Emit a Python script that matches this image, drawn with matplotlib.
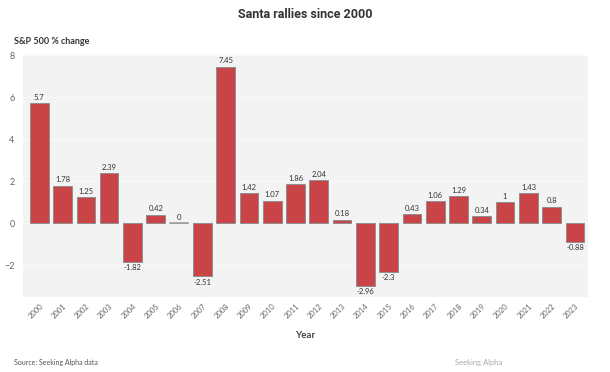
import matplotlib.pyplot as plt

# Santa rally S&P 500 % change by year
years = [str(y) for y in range(2000, 2024)]
changes = [5.7, 1.78, 1.25, 2.39, -1.82, 0.42, 0, -2.51, 7.45, 1.42, 1.07, 1.86,
           2.04, 0.18, -2.96, -2.3, 0.43, 1.06, 1.29, 0.34, 1, 1.43, 0.8, -0.88]
labels = ["5.7", "1.78", "1.25", "2.39", "-1.82", "0.42", "0", "-2.51", "7.45", "1.42",
          "1.07", "1.86", "2.04", "0.18", "-2.96", "-2.3", "0.43", "1.06", "1.29", "0.34",
          "1", "1.43", "0.8", "-0.88"]

plt.rcParams['font.family'] = ['Lato', 'DejaVu Sans']

fig = plt.figure(figsize=(6.1, 3.72), dpi=100)
ax = fig.add_axes([23 / 610, 75 / 372, 565 / 610, 242 / 372])
ax.set_facecolor('#f3f3f3')

x = list(range(len(years)))
ax.bar(x, changes, width=0.8, color='#c94446', edgecolor='#8f8f8f', linewidth=0.7, zorder=3)
ax.plot([-0.4, -0.4 + 0.8], [0, 0], alpha=0)
# zero-height bar for 2006 shows as a thin gray line
ax.plot([6 - 0.4, 6 + 0.4], [0, 0], color='#a0a0a0', linewidth=1.2, zorder=4)

for xi, v, lab in zip(x, changes, labels):
    if v >= 0:
        ax.text(xi, v + 0.12, lab, ha='center', va='bottom', fontsize=5.5, color='#333333')
    else:
        ax.text(xi, v - 0.12, lab, ha='center', va='top', fontsize=5.5, color='#333333')

ax.set_xlim(-0.7, 23.56)
ax.set_ylim(-3.5, 8)
ax.set_yticks([-2, 0, 2, 4, 6, 8])
ax.grid(axis='y', color='#fafafa', linewidth=0.8, zorder=0)
for s in ax.spines.values():
    s.set_visible(False)
ax.tick_params(axis='y', length=0, labelsize=6.5, labelcolor='#666666', pad=6)
ax.tick_params(axis='x', length=0, labelsize=5.5, labelcolor='#666666', pad=4)
ax.set_xticks(x)
ax.set_xticklabels(years, rotation=45, ha='right', rotation_mode='anchor')

fig.text(0.5, 1 - 14 / 372, "Santa rallies since 2000", ha='center', va='center',
         fontsize=9, fontweight='bold', family=['Roboto', 'DejaVu Sans'], color='#333333')
fig.text(14 / 610, 1 - 42 / 372, "S&P 500 % change", ha='left', va='center',
         fontsize=6.5, fontweight='bold', color='#333333')
fig.text(305 / 610, 1 - 335 / 372, "Year", ha='center', va='center',
         fontsize=7, fontweight='bold', color='#444444')
fig.text(14 / 610, 1 - 362 / 372, "Source: Seeking Alpha data", ha='left', va='center',
         fontsize=5, color='#555555')
fig.text(502 / 610, 1 - 362 / 372, "Seeking Alpha", ha='right', va='center',
         fontsize=5.5, color='#aaaaaa')

fig.savefig('out.png', dpi=100, facecolor='white')
